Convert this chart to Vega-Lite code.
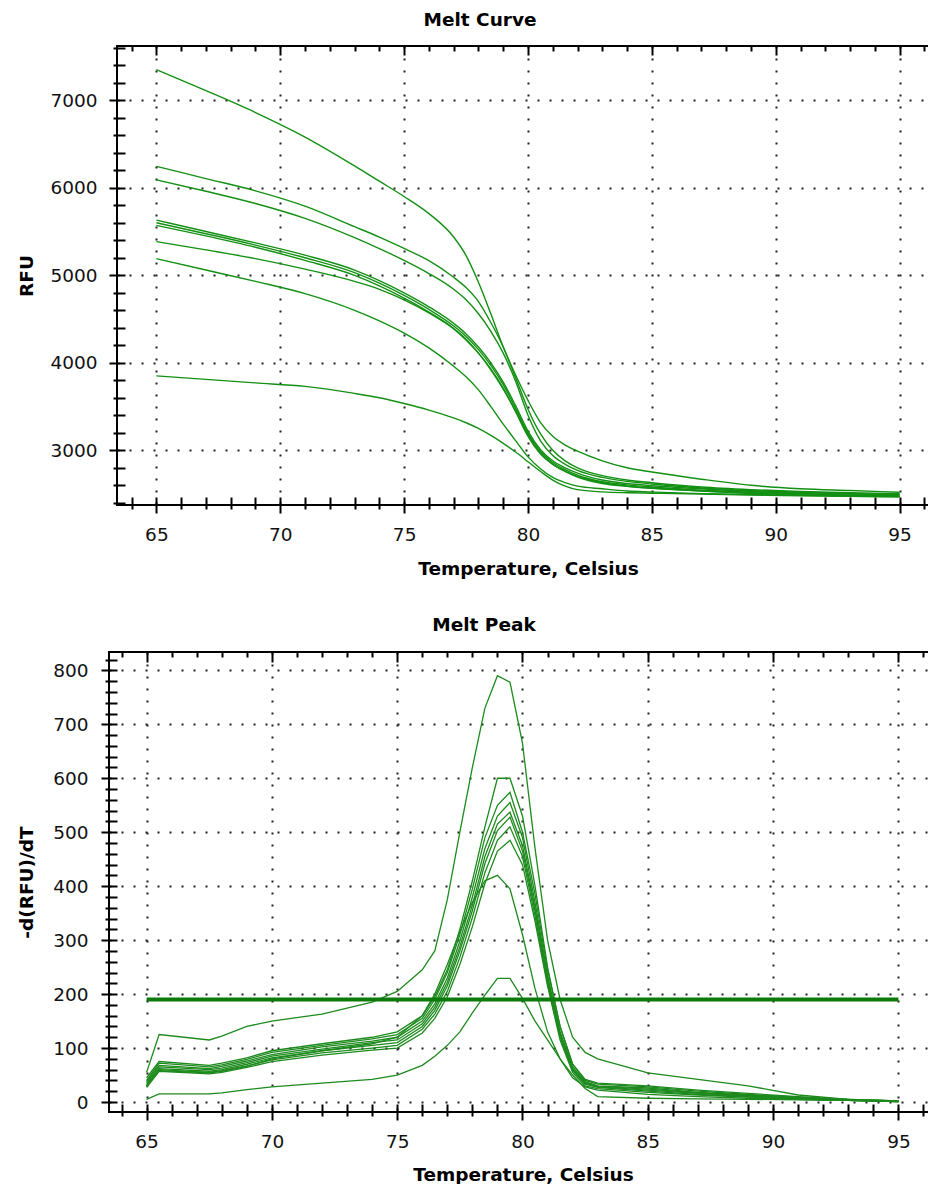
{
  "$schema": "https://vega.github.io/schema/vega-lite/v6.json",
  "padding": {"left": 9, "top": 10, "right": 0, "bottom": 0},
  "columns": 2,
  "align": "none",
  "spacing": {"row": 36, "column": 0},
  "config": {
    "font": "DejaVu Sans",
    "view": {"stroke": "#000", "strokeWidth": 2},
    "axis": {
      "domain": false,
      "tickColor": "#000",
      "tickWidth": 2,
      "tickCount": 100,
      "labelFont": "DejaVu Sans",
      "labelFontSize": 18.5,
      "labelColor": "#111",
      "labelOverlap": false,
      "titleFont": "DejaVu Sans",
      "titleFontSize": 18.5,
      "titleFontWeight": "bold",
      "titleColor": "#000",
      "gridColor": "#222",
      "gridDash": [2, 10],
      "gridWidth": 2
    },
    "title": {"font": "DejaVu Sans", "fontSize": 18.5, "fontWeight": "bold", "color": "#000", "anchor": "middle", "offset": 16}
  },
  "datasets": {
    "melt": [
      {"t": 65, "c1": 7350, "c2": 6245, "c3": 6090, "c4": 5630, "c5": 5600, "c6": 5570, "c7": 5385, "c8": 5190, "c9": 3850},
      {"t": 67, "c1": 7110, "c2": 6105, "c3": 5960, "c4": 5500, "c5": 5475, "c6": 5450, "c7": 5290, "c8": 5060, "c9": 3810},
      {"t": 69, "c1": 6860, "c2": 5965, "c3": 5820, "c4": 5370, "c5": 5345, "c6": 5320, "c7": 5190, "c8": 4930, "c9": 3770},
      {"t": 71, "c1": 6580, "c2": 5790, "c3": 5650, "c4": 5230, "c5": 5200, "c6": 5170, "c7": 5070, "c8": 4790, "c9": 3730},
      {"t": 73, "c1": 6250, "c2": 5555, "c3": 5430, "c4": 5060, "c5": 5030, "c6": 5000, "c7": 4930, "c8": 4600, "c9": 3650},
      {"t": 74, "c1": 6075, "c2": 5437, "c3": 5305, "c4": 4940, "c5": 4910, "c6": 4880, "c7": 4840, "c8": 4480, "c9": 3600},
      {"t": 75, "c1": 5900, "c2": 5307, "c3": 5170, "c4": 4800, "c5": 4770, "c6": 4740, "c7": 4720, "c8": 4340, "c9": 3535},
      {"t": 76, "c1": 5705, "c2": 5167, "c3": 5020, "c4": 4640, "c5": 4610, "c6": 4580, "c7": 4570, "c8": 4170, "c9": 3460},
      {"t": 77, "c1": 5437, "c2": 4977, "c3": 4840, "c4": 4450, "c5": 4420, "c6": 4390, "c7": 4390, "c8": 3960, "c9": 3370},
      {"t": 77.5, "c1": 5225, "c2": 4860, "c3": 4720, "c4": 4330, "c5": 4300, "c6": 4260, "c7": 4270, "c8": 3840, "c9": 3315},
      {"t": 78, "c1": 4920, "c2": 4700, "c3": 4560, "c4": 4180, "c5": 4150, "c6": 4110, "c7": 4110, "c8": 3690, "c9": 3250},
      {"t": 78.5, "c1": 4560, "c2": 4460, "c3": 4360, "c4": 4000, "c5": 3970, "c6": 3930, "c7": 3920, "c8": 3500, "c9": 3170},
      {"t": 79, "c1": 4180, "c2": 4180, "c3": 4110, "c4": 3780, "c5": 3750, "c6": 3710, "c7": 3700, "c8": 3300, "c9": 3080},
      {"t": 79.5, "c1": 3860, "c2": 3830, "c3": 3790, "c4": 3510, "c5": 3480, "c6": 3440, "c7": 3450, "c8": 3110, "c9": 2980},
      {"t": 80, "c1": 3570, "c2": 3470, "c3": 3400, "c4": 3220, "c5": 3195, "c6": 3160, "c7": 3180, "c8": 2925, "c9": 2870},
      {"t": 80.5, "c1": 3320, "c2": 3190, "c3": 3110, "c4": 3010, "c5": 2990, "c6": 2960, "c7": 2970, "c8": 2790, "c9": 2760},
      {"t": 81, "c1": 3160, "c2": 3000, "c3": 2940, "c4": 2880, "c5": 2860, "c6": 2840, "c7": 2840, "c8": 2690, "c9": 2660},
      {"t": 81.5, "c1": 3060, "c2": 2880, "c3": 2840, "c4": 2800, "c5": 2780, "c6": 2760, "c7": 2760, "c8": 2630, "c9": 2590},
      {"t": 82, "c1": 2990, "c2": 2800, "c3": 2770, "c4": 2740, "c5": 2715, "c6": 2695, "c7": 2700, "c8": 2590, "c9": 2550},
      {"t": 83, "c1": 2880, "c2": 2710, "c3": 2690, "c4": 2660, "c5": 2640, "c6": 2620, "c7": 2630, "c8": 2560, "c9": 2525},
      {"t": 84, "c1": 2800, "c2": 2660, "c3": 2645, "c4": 2620, "c5": 2605, "c6": 2590, "c7": 2590, "c8": 2535, "c9": 2515},
      {"t": 85, "c1": 2752, "c2": 2630, "c3": 2615, "c4": 2595, "c5": 2580, "c6": 2570, "c7": 2565, "c8": 2524, "c9": 2510},
      {"t": 87, "c1": 2670, "c2": 2580, "c3": 2570, "c4": 2560, "c5": 2545, "c6": 2535, "c7": 2535, "c8": 2505, "c9": 2500},
      {"t": 89, "c1": 2600, "c2": 2550, "c3": 2540, "c4": 2530, "c5": 2520, "c6": 2510, "c7": 2510, "c8": 2495, "c9": 2490},
      {"t": 91, "c1": 2560, "c2": 2530, "c3": 2520, "c4": 2515, "c5": 2505, "c6": 2495, "c7": 2495, "c8": 2485, "c9": 2480},
      {"t": 93, "c1": 2540, "c2": 2515, "c3": 2505, "c4": 2500, "c5": 2490, "c6": 2485, "c7": 2485, "c8": 2475, "c9": 2475},
      {"t": 95, "c1": 2520, "c2": 2505, "c3": 2495, "c4": 2490, "c5": 2480, "c6": 2475, "c7": 2475, "c8": 2470, "c9": 2470}
    ],
    "peak": [
      {"t": 65, "A": 55, "B": 45, "C": 40, "D": 38, "E": 35, "F": 32, "G": 30, "H": 27, "I": 28, "J": 5},
      {"t": 65.5, "A": 125, "B": 75, "C": 72, "D": 68, "E": 65, "F": 62, "G": 60, "H": 57, "I": 58, "J": 15},
      {"t": 67.5, "A": 115, "B": 68, "C": 65, "D": 62, "E": 60, "F": 57, "G": 55, "H": 52, "I": 54, "J": 15},
      {"t": 68, "A": 122, "B": 72, "C": 69, "D": 66, "E": 63, "F": 60, "G": 58, "H": 55, "I": 57, "J": 17},
      {"t": 69, "A": 140, "B": 82, "C": 79, "D": 76, "E": 73, "F": 70, "G": 67, "H": 64, "I": 66, "J": 23},
      {"t": 70, "A": 150, "B": 95, "C": 92, "D": 88, "E": 85, "F": 82, "G": 78, "H": 75, "I": 80, "J": 28},
      {"t": 72, "A": 163, "B": 108, "C": 105, "D": 102, "E": 98, "F": 95, "G": 91, "H": 87, "I": 95, "J": 35},
      {"t": 74, "A": 185, "B": 120, "C": 117, "D": 113, "E": 110, "F": 105, "G": 100, "H": 96, "I": 108, "J": 42},
      {"t": 75, "A": 205, "B": 130, "C": 125, "D": 120, "E": 115, "F": 110, "G": 105, "H": 100, "I": 120, "J": 50},
      {"t": 76, "A": 245, "B": 160, "C": 155, "D": 150, "E": 145, "F": 140, "G": 135, "H": 128, "I": 160, "J": 68},
      {"t": 76.5, "A": 280, "B": 195, "C": 190, "D": 182, "E": 176, "F": 170, "G": 163, "H": 155, "I": 200, "J": 85},
      {"t": 77, "A": 375, "B": 245, "C": 240, "D": 230, "E": 222, "F": 215, "G": 205, "H": 195, "I": 255, "J": 105},
      {"t": 77.5, "A": 500, "B": 320, "C": 310, "D": 298, "E": 288, "F": 280, "G": 268, "H": 255, "I": 315, "J": 130},
      {"t": 78, "A": 620, "B": 410, "C": 395, "D": 380, "E": 365, "F": 355, "G": 342, "H": 325, "I": 370, "J": 165},
      {"t": 78.5, "A": 730, "B": 510, "C": 490, "D": 470, "E": 455, "F": 442, "G": 425, "H": 405, "I": 410, "J": 198},
      {"t": 79, "A": 790, "B": 600, "C": 550, "D": 530, "E": 515, "F": 503, "G": 485, "H": 465, "I": 420, "J": 229},
      {"t": 79.5, "A": 778, "B": 600, "C": 574, "D": 555, "E": 537, "F": 528, "G": 510, "H": 485, "I": 395, "J": 229},
      {"t": 80, "A": 665, "B": 530, "C": 500, "D": 490, "E": 475, "F": 465, "G": 455, "H": 440, "I": 310, "J": 192},
      {"t": 80.5, "A": 470, "B": 400, "C": 385, "D": 370, "E": 360, "F": 355, "G": 345, "H": 335, "I": 210, "J": 150},
      {"t": 81, "A": 300, "B": 250, "C": 245, "D": 235, "E": 230, "F": 225, "G": 220, "H": 215, "I": 130, "J": 115},
      {"t": 81.5, "A": 190, "B": 140, "C": 140, "D": 130, "E": 128, "F": 125, "G": 120, "H": 115, "I": 80, "J": 80},
      {"t": 82, "A": 120, "B": 70, "C": 70, "D": 65, "E": 62, "F": 60, "G": 58, "H": 55, "I": 45, "J": 50},
      {"t": 82.5, "A": 92, "B": 42, "C": 40, "D": 38, "E": 36, "F": 35, "G": 33, "H": 30, "I": 28, "J": 25},
      {"t": 83, "A": 80, "B": 35, "C": 33, "D": 30, "E": 29, "F": 28, "G": 27, "H": 25, "I": 22, "J": 10},
      {"t": 85, "A": 54, "B": 30, "C": 28, "D": 26, "E": 24, "F": 22, "G": 20, "H": 18, "I": 14, "J": 7},
      {"t": 87, "A": 42, "B": 22, "C": 20, "D": 18, "E": 17, "F": 16, "G": 14, "H": 13, "I": 10, "J": 6},
      {"t": 89, "A": 30, "B": 16, "C": 14, "D": 13, "E": 12, "F": 11, "G": 10, "H": 9, "I": 7, "J": 5},
      {"t": 91, "A": 13, "B": 10, "C": 9, "D": 8, "E": 7, "F": 7, "G": 6, "H": 5, "I": 5, "J": 4},
      {"t": 93, "A": 5, "B": 5, "C": 5, "D": 4, "E": 4, "F": 3, "G": 3, "H": 3, "I": 3, "J": 3},
      {"t": 95, "A": 2, "B": 2, "C": 2, "D": 2, "E": 1, "F": 1, "G": 1, "H": 1, "I": 1, "J": 2}
    ],
    "threshold": [
      {"t1": 65, "t2": 95, "thr": 190}
    ],
    "blank": [
      {"k": 0}
    ]
  },
  "concat": [
    {
      "width": 5,
      "height": 1,
      "view": {"stroke": null},
      "data": {"name": "blank"},
      "mark": {"type": "point", "opacity": 0},
      "encoding": {}
    },
    {
      "width": 822,
      "height": 459,
      "title": {"text": "Melt Curve", "dx": -48, "offset": 9},
      "data": {"name": "melt"},
      "layer": [
        {
          "transform": [{"fold": ["c1", "c2", "c3", "c4", "c5", "c6", "c7", "c8", "c9"], "as": ["curve", "rfu"]}],
          "mark": {"type": "line", "color": "#139013", "strokeWidth": 1.4, "interpolate": "monotone", "clip": true},
          "encoding": {
            "x": {
              "field": "t", "type": "quantitative",
              "scale": {"domain": [63.41, 96.59], "nice": false, "zero": false},
              "axis": {
                "orient": "bottom",
                "title": "Temperature, Celsius",
                "values": [64, 65, 66, 67, 68, 69, 70, 71, 72, 73, 74, 75, 76, 77, 78, 79, 80, 81, 82, 83, 84, 85, 86, 87, 88, 89, 90, 91, 92, 93, 94, 95, 96],
                "offset": -8,
                "tickSize": {"condition": {"test": "datum.value % 5 === 0", "value": 16}, "value": 12},
                "labelExpr": "datum.value % 5 === 0 ? format(datum.value, 'd') : ''",
                "labelPadding": 12,
                "titlePadding": 16,
                "grid": true,
                "gridOpacity": {"condition": {"test": "datum.value % 5 === 0", "value": 1}, "value": 0}
              }
            },
            "y": {
              "field": "rfu", "type": "quantitative",
              "scale": {"domain": [2375, 7620], "nice": false, "zero": false},
              "axis": {
                "title": "RFU",
                "values": [2400, 2600, 2800, 3000, 3200, 3400, 3600, 3800, 4000, 4200, 4400, 4600, 4800, 5000, 5200, 5400, 5600, 5800, 6000, 6200, 6400, 6600, 6800, 7000, 7200, 7400, 7600],
                "offset": -8,
                "tickSize": {"condition": {"test": "datum.value % 1000 === 0", "value": 16}, "value": 12},
                "labelExpr": "datum.value % 1000 === 0 ? format(datum.value, 'd') : ''",
                "labelPadding": 12,
                "titlePadding": 13,
                "grid": true,
                "gridOpacity": {"condition": {"test": "datum.value % 1000 === 0", "value": 1}, "value": 0}
              }
            },
            "detail": {"field": "curve"}
          }
        },
        {
          "mark": {"type": "rule", "opacity": 0},
          "encoding": {
            "x": {
              "field": "t", "type": "quantitative",
              "scale": {"domain": [63.41, 96.59], "nice": false, "zero": false},
              "axis": {
                "orient": "top",
                "title": null,
                "labels": false,
                "grid": false,
                "values": [64, 65, 66, 67, 68, 69, 70, 71, 72, 73, 74, 75, 76, 77, 78, 79, 80, 81, 82, 83, 84, 85, 86, 87, 88, 89, 90, 91, 92, 93, 94, 95, 96],
                "tickSize": {"condition": {"test": "datum.value % 5 === 0", "value": -9}, "value": -5}
              }
            }
          }
        }
      ],
      "resolve": {"axis": {"x": "independent"}}
    },
    {
      "width": 5,
      "height": 1,
      "view": {"stroke": null},
      "data": {"name": "blank"},
      "mark": {"type": "point", "opacity": 0},
      "encoding": {}
    },
    {
      "width": 828,
      "height": 460,
      "title": {"text": "Melt Peak", "dx": -39},
      "data": {"name": "peak"},
      "layer": [
        {
          "transform": [{"fold": ["A", "B", "C", "D", "E", "F", "G", "H", "I", "J"], "as": ["curve", "deriv"]}],
          "mark": {"type": "line", "color": "#1d8a1d", "strokeWidth": 1.3, "clip": true},
          "encoding": {
            "x": {
              "field": "t", "type": "quantitative",
              "scale": {"domain": [63.5, 96.54], "nice": false, "zero": false},
              "axis": {
                "orient": "bottom",
                "title": "Temperature, Celsius",
                "values": [64, 65, 66, 67, 68, 69, 70, 71, 72, 73, 74, 75, 76, 77, 78, 79, 80, 81, 82, 83, 84, 85, 86, 87, 88, 89, 90, 91, 92, 93, 94, 95, 96],
                "offset": -8,
                "tickSize": {"condition": {"test": "datum.value % 5 === 0", "value": 16}, "value": 12},
                "labelExpr": "datum.value % 5 === 0 ? format(datum.value, 'd') : ''",
                "labelPadding": 12,
                "titlePadding": 15,
                "grid": true,
                "gridOpacity": {"condition": {"test": "datum.value % 5 === 0", "value": 1}, "value": 0}
              }
            },
            "y": {
              "field": "deriv", "type": "quantitative",
              "scale": {"domain": [-18.5, 834], "nice": false, "zero": false},
              "axis": {
                "title": "-d(RFU)/dT",
                "values": [0, 20, 40, 60, 80, 100, 120, 140, 160, 180, 200, 220, 240, 260, 280, 300, 320, 340, 360, 380, 400, 420, 440, 460, 480, 500, 520, 540, 560, 580, 600, 620, 640, 660, 680, 700, 720, 740, 760, 780, 800, 820],
                "offset": -8,
                "tickSize": {"condition": {"test": "datum.value % 100 === 0", "value": 16}, "value": 12},
                "labelExpr": "datum.value % 100 === 0 ? format(datum.value, 'd') : ''",
                "labelPadding": 13,
                "titlePadding": 16,
                "grid": true,
                "gridOpacity": {"condition": {"test": "datum.value % 100 === 0", "value": 1}, "value": 0}
              }
            },
            "detail": {"field": "curve"}
          }
        },
        {
          "data": {"name": "threshold"},
          "mark": {"type": "rule", "color": "#0b7a0b", "strokeWidth": 4},
          "encoding": {
            "x": {"field": "t1", "type": "quantitative", "scale": {"domain": [63.5, 96.54], "nice": false, "zero": false}, "axis": null},
            "x2": {"field": "t2"},
            "y": {"field": "thr", "type": "quantitative", "scale": {"domain": [-18.5, 834], "nice": false, "zero": false}}
          }
        },
        {
          "mark": {"type": "rule", "opacity": 0},
          "encoding": {
            "x": {
              "field": "t", "type": "quantitative",
              "scale": {"domain": [63.5, 96.54], "nice": false, "zero": false},
              "axis": {
                "orient": "top",
                "title": null,
                "labels": false,
                "grid": false,
                "values": [64, 65, 66, 67, 68, 69, 70, 71, 72, 73, 74, 75, 76, 77, 78, 79, 80, 81, 82, 83, 84, 85, 86, 87, 88, 89, 90, 91, 92, 93, 94, 95, 96],
                "tickSize": {"condition": {"test": "datum.value % 5 === 0", "value": -10}, "value": -5}
              }
            }
          }
        }
      ],
      "resolve": {"axis": {"x": "independent"}}
    }
  ]
}
